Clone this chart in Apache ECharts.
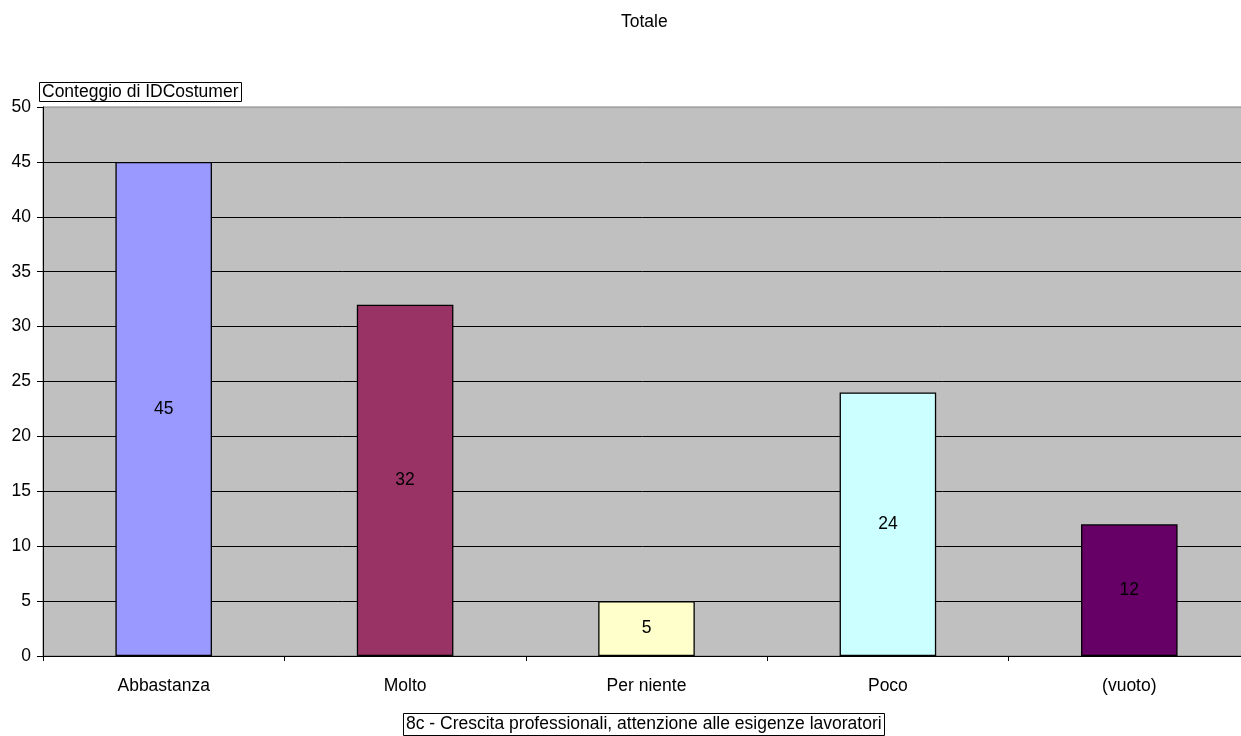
<!DOCTYPE html>
<html>
<head>
<meta charset="utf-8">
<script src="https://cdn.jsdelivr.net/npm/echarts@6/dist/echarts.min.js"></script>
<style>
  html, body { margin: 0; padding: 0; background: #fff; }
  #chart { width: 1241px; height: 736px; }
</style>
</head>
<body>
<div id="chart"></div>
<script>
// categories (risposte) and counts
var categories = ["Abbastanza", "Molto", "Per niente", "Poco", "(vuoto)"];
var counts = [45, 32, 5, 24, 12];
var barColors = ["#9999FF", "#993366", "#FFFFCC", "#CCFFFF", "#660066"];

var chart = echarts.init(document.getElementById("chart"));

var font = "Arial, 'Liberation Sans', sans-serif";
var fs = 17.5;

var option = {
    animation: false,
    textStyle: { fontFamily: font },
    title: [
        {
            text: "Totale",
            left: 616,
            top: 8,
            textStyle: { fontSize: fs, fontWeight: "normal", color: "#000", fontFamily: font }
        },
        {
            text: "Conteggio di IDCostumer",
            left: 39,
            top: 82,
            padding: [1, 3, 0, 3],
            borderColor: "#000",
            borderWidth: 1,
            textStyle: { fontSize: fs, lineHeight: 19, fontWeight: "normal", color: "#000", fontFamily: font }
        },
        {
            text: "8c - Crescita professionali, attenzione alle esigenze lavoratori",
            left: 403,
            top: 713,
            padding: [2, 3, 2, 3],
            borderColor: "#000",
            borderWidth: 1,
            textStyle: { fontSize: fs, lineHeight: 19, fontWeight: "normal", color: "#000", fontFamily: font }
        }
    ],
    grid: {
        left: 43,
        top: 107,
        right: -9,
        bottom: 80,
        outerBoundsMode: "none",
        show: true,
        backgroundColor: "#C0C0C0",
        borderColor: "#808080",
        borderWidth: 1,
        containLabel: false
    },
    xAxis: {
        type: "category",
        data: categories,
        axisLine: { lineStyle: { color: "#000", width: 1 } },
        axisTick: { show: true, length: 5, lineStyle: { color: "#000" } },
        axisLabel: { color: "#000", fontSize: fs, margin: 21, fontFamily: font }
    },
    yAxis: {
        type: "value",
        min: 0,
        max: 50,
        interval: 5,
        axisLine: { show: true, lineStyle: { color: "#000", width: 1 } },
        axisTick: { show: true, length: 6, lineStyle: { color: "#000" } },
        axisLabel: { color: "#000", fontSize: fs, margin: 12, fontFamily: font },
        splitLine: { show: true, showMaxLine: false, lineStyle: { color: "#000", width: 1 } }
    },
    series: [{
        type: "bar",
        data: counts.map(function (v, i) {
            return { value: v, itemStyle: { color: barColors[i] } };
        }),
        barCategoryGap: "60%",
        itemStyle: { borderColor: "#000", borderWidth: 1.3 },
        label: {
            show: true,
            position: "inside",
            color: "#000",
            fontSize: fs,
            fontFamily: font
        }
    }]
};

chart.setOption(option);
</script>
</body>
</html>
